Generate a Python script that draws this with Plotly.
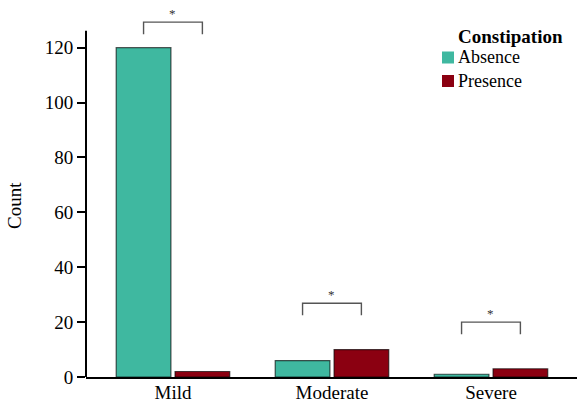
import plotly.graph_objects as go

# Counts of constipation by symptom severity
severity = ["Mild", "Moderate", "Severe"]
absence = [120, 6, 1]
presence = [2, 10, 3]
series_names = ["Absence", "Presence"]
series_colors = ["#3FB8A0", "#8B0011"]

# Significance brackets: base of each bracket (data units) and its label
bracket_base = [124.9, 22.5, 15.6]
bracket_labels = ["*", "*", "*"]
y_axis_top = 126.2

FONT = "Liberation Serif, Times New Roman, serif"
W, H = 577, 403
ML, MR, MT, MB = 86, 0, 12, 26
X_RANGE = [-0.547, 2.541]
Y_RANGE = [0, 133]

fig = go.Figure()
for name, vals, col in zip(series_names, [absence, presence], series_colors):
    fig.add_trace(go.Bar(
        x=severity, y=vals, name=name,
        marker=dict(color=col, line=dict(color="rgba(0,0,0,0.65)", width=1.2)),
        showlegend=False,
    ))

shapes = []
annotations = []

# y axis line drawn only up to the top tick region
shapes.append(dict(type="line", xref="paper", yref="y", x0=0, x1=0,
                   y0=0, y1=y_axis_top, line=dict(color="black", width=2)))

# brackets spanning the two bars of each group
half = 0.185
leg = 4.4
for i, (base, lab) in enumerate(zip(bracket_base, bracket_labels)):
    top = base + leg
    shapes.append(dict(type="path", xref="x", yref="y",
                       path=f"M {i-half},{base} L {i-half},{top} L {i+half},{top} L {i+half},{base}",
                       line=dict(color="#555555", width=1.4)))
    annotations.append(dict(x=i, y=top, xref="x", yref="y", text=lab,
                            showarrow=False, yanchor="bottom", yshift=-1,
                            font=dict(family=FONT, size=13, color="#333333")))

# legend block
pw = W - ML - MR
ph = H - MT - MB
def px(xp):
    return (xp - ML) / pw
def py(yp):
    return (H - MB - yp) / ph

annotations.append(dict(x=px(456), y=py(36.5), xref="paper", yref="paper",
                        text="<b>Constipation</b>", showarrow=False,
                        xanchor="left", yanchor="middle",
                        font=dict(family=FONT, size=19, color="black")))
for k, (name, col) in enumerate(zip(series_names, series_colors)):
    cy = 57.5 + k * 23.5
    shapes.append(dict(type="rect", xref="paper", yref="paper",
                       x0=px(442), x1=px(454), y0=py(cy + 6), y1=py(cy - 6),
                       fillcolor=col, line=dict(width=0)))
    annotations.append(dict(x=px(456), y=py(cy), xref="paper", yref="paper",
                            text=name, showarrow=False,
                            xanchor="left", yanchor="middle",
                            font=dict(family=FONT, size=18, color="black")))

# y axis title
annotations.append(dict(x=px(14), y=py(206), xref="paper", yref="paper",
                        text="Count", showarrow=False, textangle=-90,
                        xanchor="center", yanchor="middle",
                        font=dict(family=FONT, size=19, color="black")))

fig.update_layout(
    width=W, height=H,
    margin=dict(l=ML, r=MR, t=MT, b=MB, autoexpand=False),
    paper_bgcolor="white", plot_bgcolor="white",
    barmode="group", bargap=0.26, bargroupgap=0.07,
    font=dict(family=FONT, size=19, color="black"),
    shapes=shapes, annotations=annotations,
    xaxis=dict(range=X_RANGE, showgrid=False, zeroline=False, automargin=False,
               showline=True, linecolor="black", linewidth=2,
               ticks="", ticklabelstandoff=-3,
               tickfont=dict(family=FONT, size=19, color="black")),
    yaxis=dict(range=Y_RANGE, showgrid=False, zeroline=False, showline=False,
               automargin=False,
               tickvals=[0, 20, 40, 60, 80, 100, 120],
               ticks="outside", ticklen=8, tickwidth=2, tickcolor="black",
               tickfont=dict(family=FONT, size=19, color="black")),
)

fig.write_html("out.html")
